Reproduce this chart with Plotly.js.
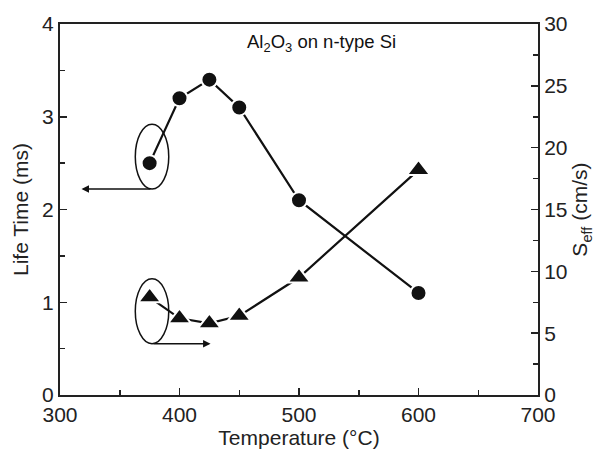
<!DOCTYPE html>
<html><head><meta charset="utf-8">
<script src="https://cdn.plot.ly/plotly-3.0.1.min.js"></script>
<style>body{margin:0;background:#fff}#chart{width:599px;height:451px}</style>
</head><body><div id="chart"></div>
<script>
const temperature = [375, 400, 425, 450, 500, 600];
const lifeTime = [2.5, 3.2, 3.4, 3.1, 2.1, 1.1];
const sEff = [7.9, 6.2, 5.8, 6.4, 9.5, 18.2];
const xTicks = [300, 400, 500, 600, 700];
const yTicks = [0, 1, 2, 3, 4];
const y2Ticks = [0, 5, 10, 15, 20, 25, 30];

const font = 'Liberation Sans, Arial, sans-serif';
const axisCommon = {
  showline: true, linecolor: '#222', linewidth: 2, ticks: 'inside', ticklen: 7, tickwidth: 1.5,
  tickcolor: '#222', showgrid: false, zeroline: false,
  tickfont: {family: font, size: 21, color: '#222'}
};
const traces = [
  {x: temperature, y: lifeTime, type: 'scatter', mode: 'lines+markers', yaxis: 'y',
   line: {color: '#111', width: 2.2},
   marker: {symbol: 'circle', size: 16, color: '#111', line: {color: '#fff', width: 2}}},
  {x: temperature, y: sEff, type: 'scatter', mode: 'lines+markers', yaxis: 'y2',
   line: {color: '#111', width: 2.2},
   marker: {symbol: 'triangle-up', size: 20, color: '#111', line: {color: '#fff', width: 2}}}
];
const s = 7.5; // y2/y ratio
const c0 = {x: temperature[0], y: lifeTime[0] + 0.07};
const t0 = {x: temperature[0], y: sEff[0] / s - 0.15};
const layout = {
  width: 599, height: 451, showlegend: false,
  paper_bgcolor: '#fff', plot_bgcolor: '#fff',
  margin: {l: 60, r: 61, t: 24, b: 56},
  font: {family: font, color: '#222'},
  xaxis: Object.assign({}, axisCommon, {range: [300, 700], tickvals: xTicks, mirror: true,
    minor: {dtick: 50, ticks: 'inside', ticklen: 5, tickwidth: 1.5, tickcolor: '#222'},
    title: {text: 'Temperature (°C)', font: {family: font, size: 21, color: '#222'}, standoff: 3}}),
  yaxis: Object.assign({}, axisCommon, {range: [0, 4], tickvals: yTicks,
    minor: {dtick: 0.5, ticks: 'inside', ticklen: 5, tickwidth: 1.5, tickcolor: '#222'},
    title: {text: 'Life Time (ms)', font: {family: font, size: 21, color: '#222'}, standoff: 8}}),
  yaxis2: Object.assign({}, axisCommon, {range: [0, 30], tickvals: y2Ticks, overlaying: 'y', side: 'right',
    minor: {dtick: 2.5, ticks: 'inside', ticklen: 5, tickwidth: 1.5, tickcolor: '#222'},
    title: {text: 'S<sub>eff</sub> (cm/s)', font: {family: font, size: 21, color: '#222'}, standoff: 6}}),
  shapes: [
    {type: 'circle', xref: 'x', yref: 'y', x0: c0.x - 12, x1: c0.x + 16, y0: c0.y - 0.35, y1: c0.y + 0.35,
     line: {color: '#111', width: 1.5}},
    {type: 'circle', xref: 'x', yref: 'y', x0: t0.x - 12, x1: t0.x + 16, y0: t0.y - 0.35, y1: t0.y + 0.35,
     line: {color: '#111', width: 1.5}}
  ],
  annotations: [
    {xref: 'x', yref: 'y', axref: 'x', ayref: 'y', x: 318, y: c0.y - 0.35, ax: c0.x + 2, ay: c0.y - 0.35,
     showarrow: true, arrowhead: 2, arrowsize: 1, arrowwidth: 1.5, arrowcolor: '#111', text: ''},
    {xref: 'x', yref: 'y', axref: 'x', ayref: 'y', x: 426, y: t0.y - 0.35, ax: t0.x + 2, ay: t0.y - 0.35,
     showarrow: true, arrowhead: 2, arrowsize: 1, arrowwidth: 1.5, arrowcolor: '#111', text: ''},
    {xref: 'x', yref: 'y', x: 519, y: 3.79, showarrow: false,
     text: 'Al<sub>2</sub>O<sub>3</sub> on n-type Si', font: {family: font, size: 18.5, color: '#111'}}
  ]
};
Plotly.newPlot('chart', traces, layout, {displayModeBar: false, staticPlot: true});
</script></body></html>
